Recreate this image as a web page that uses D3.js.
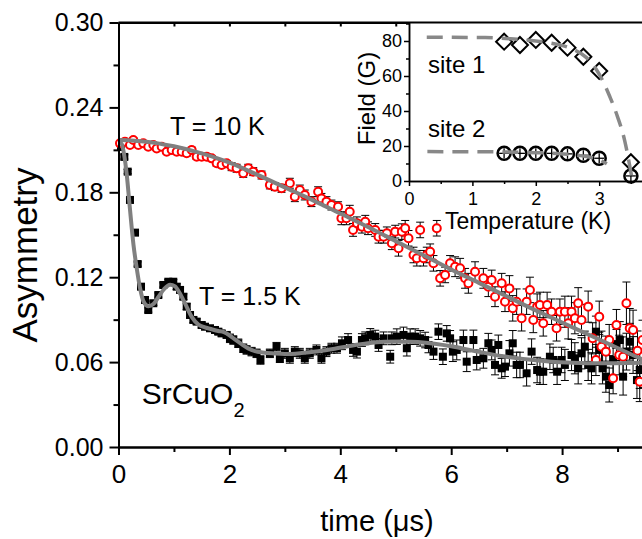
<!DOCTYPE html>
<html>
<head>
<meta charset="utf-8">
<script src="https://cdn.jsdelivr.net/npm/d3@7/dist/d3.min.js"></script>
<style>
  body { margin: 0; background: #fff; }
  text { font-family: Arial, "Liberation Sans", sans-serif; fill: #000; }
</style>
</head>
<body>
<div id="chart"></div>
<script>
// ---- T = 10 K (open red circles) ----
const redT = [
  0.027, 0.117, 0.207, 0.267, 0.357, 0.447, 0.537, 0.628, 0.689, 0.779, 0.869, 0.959,
  1.05, 1.14, 1.23, 1.32, 1.41, 1.50, 1.59, 1.68, 1.77, 1.86, 1.95,
  2.04, 2.13, 2.25, 2.34, 2.43, 2.58, 2.73, 2.82, 2.94,
  3.09, 3.18, 3.27, 3.36, 3.48, 3.60, 3.66, 3.75, 3.84, 3.96,
  4.02, 4.11, 4.17, 4.23, 4.30, 4.39, 4.45, 4.50, 4.63, 4.69, 4.78, 4.84, 4.93, 4.99,
  5.05, 5.11, 5.17, 5.23, 5.32, 5.38, 5.44, 5.50, 5.56, 5.62, 5.68, 5.74, 5.80, 5.89, 5.98,
  6.07, 6.16, 6.25, 6.31, 6.43, 6.58, 6.67, 6.73, 6.79, 6.91, 6.97,
  7.05, 7.11, 7.18, 7.27, 7.36, 7.42, 7.48, 7.55, 7.60, 7.66, 7.73, 7.81, 7.90, 7.96,
  8.05, 8.11, 8.17, 8.23, 8.29, 8.35, 8.47, 8.55, 8.61, 8.67, 8.71, 8.79, 8.85, 8.92, 8.98,
  9.03, 9.10, 9.16, 9.22, 9.28, 9.36, 9.40, 9.45
];
const redA = [
  0.2146, 0.2158, 0.2134, 0.2170, 0.2134, 0.2146, 0.2122, 0.2134, 0.2110, 0.2122, 0.2087, 0.2099,
  0.2087, 0.2087, 0.2076, 0.2099, 0.2052, 0.2052, 0.2052, 0.2040, 0.2005, 0.1993, 0.2005,
  0.1981, 0.1970, 0.1934, 0.1970, 0.1946, 0.1922, 0.1852, 0.1840, 0.1828,
  0.1864, 0.1769, 0.1816, 0.1781, 0.1734, 0.1804, 0.1757, 0.1734, 0.1710, 0.1698,
  0.1616, 0.1616, 0.1663, 0.1534, 0.1581, 0.1557, 0.1592, 0.1546, 0.1534, 0.1486, 0.1486, 0.1510, 0.1440, 0.1522,
  0.1404, 0.1522, 0.1546, 0.1475, 0.1357, 0.1334, 0.1534, 0.1334, 0.1357, 0.1380, 0.1298, 0.1546, 0.1192, 0.1216, 0.1298,
  0.1274, 0.1263, 0.1192, 0.1157, 0.1239, 0.1192, 0.1133, 0.1180, 0.1062, 0.1157, 0.1027,
  0.1121, 0.0980, 0.1027, 0.0910, 0.1027, 0.1110, 0.0898, 0.0992, 0.1004, 0.0874, 0.1004, 0.0956, 0.0839, 0.0956,
  0.0956, 0.0874, 0.0956, 0.0910, 0.1016, 0.0898, 0.0992, 0.0768, 0.0615, 0.0921, 0.0709, 0.0674, 0.0756, 0.0486, 0.0862,
  0.0650, 0.0638, 0.1016, 0.0839, 0.0827, 0.0680, 0.0461, 0.0756
];
const redErr = [
  0.0015, 0.0015, 0.0015, 0.0015, 0.0015, 0.0015, 0.0015, 0.0015, 0.0015, 0.0015, 0.0015, 0.0015,
  0.002, 0.002, 0.002, 0.002, 0.002, 0.002, 0.002, 0.002, 0.002, 0.002, 0.002,
  0.0028, 0.0028, 0.0028, 0.0028, 0.0028, 0.0028, 0.0028, 0.0028, 0.0028,
  0.0035, 0.0035, 0.0035, 0.0035, 0.0035, 0.0035, 0.0035, 0.0035, 0.0035, 0.0035,
  0.0045, 0.0045, 0.0045, 0.0045, 0.0045, 0.0045, 0.0045, 0.0045, 0.0045, 0.0045, 0.0045, 0.0045, 0.0045, 0.0045,
  0.0055, 0.0055, 0.0055, 0.0055, 0.0055, 0.0055, 0.0055, 0.0055, 0.0055, 0.0055, 0.0055, 0.0055, 0.0055, 0.0055, 0.0055,
  0.007, 0.007, 0.007, 0.007, 0.007, 0.007, 0.007, 0.007, 0.007, 0.007, 0.007,
  0.009, 0.009, 0.009, 0.009, 0.009, 0.009, 0.009, 0.009, 0.009, 0.009, 0.009, 0.009, 0.009, 0.009,
  0.011, 0.011, 0.011, 0.011, 0.011, 0.011, 0.011, 0.011, 0.011, 0.011, 0.011, 0.011, 0.011, 0.011, 0.011,
  0.014, 0.014, 0.015, 0.014, 0.014, 0.014, 0.014, 0.014
];

// ---- T = 1.5 K (filled black squares) ----
const blackT = [
  0.045, 0.105, 0.166, 0.207, 0.298, 0.346, 0.406, 0.478, 0.537, 0.628, 0.718, 0.808, 0.898, 0.988,
  1.05, 1.11, 1.17, 1.23, 1.29, 1.35, 1.41, 1.50, 1.56, 1.65, 1.74, 1.80, 1.86, 1.95,
  2.01, 2.07, 2.16, 2.25, 2.31, 2.40, 2.49, 2.56, 2.73, 2.85, 2.91,
  3.00, 3.09, 3.18, 3.27, 3.36, 3.45, 3.57, 3.66, 3.75, 3.84, 3.94,
  4.03, 4.14, 4.23, 4.30, 4.39, 4.45, 4.54, 4.63, 4.69, 4.78, 4.90, 4.93,
  5.02, 5.14, 5.20, 5.26, 5.35, 5.44, 5.53, 5.59, 5.68, 5.77, 5.85, 5.92, 5.98,
  6.03, 6.10, 6.22, 6.28, 6.40, 6.46, 6.58, 6.67, 6.73, 6.79, 6.85, 6.91, 6.97,
  7.05, 7.11, 7.18, 7.24, 7.36, 7.45, 7.55, 7.60, 7.66, 7.78, 7.84, 7.91, 7.99,
  8.05, 8.17, 8.23, 8.29, 8.35, 8.41, 8.47, 8.53, 8.61, 8.67, 8.73, 8.79, 8.85, 8.92, 8.98,
  9.04, 9.10, 9.16, 9.22, 9.28, 9.35, 9.40, 9.47
];
const blackA = [
  0.2120, 0.2050, 0.1946, 0.1746, 0.1515, 0.1293, 0.1133, 0.1039, 0.0968, 0.1016, 0.1074, 0.1145, 0.1168, 0.1168,
  0.1133, 0.1110, 0.1062, 0.0992, 0.0933, 0.0898, 0.0886, 0.0862, 0.0850, 0.0839, 0.0827, 0.0815, 0.0803, 0.0792,
  0.0768, 0.0756, 0.0733, 0.0698, 0.0686, 0.0674, 0.0662, 0.0615, 0.0662, 0.0709, 0.0627,
  0.0662, 0.0627, 0.0674, 0.0662, 0.0627, 0.0662, 0.0686, 0.0627, 0.0674, 0.0698, 0.0698,
  0.0733, 0.0756, 0.0686, 0.0674, 0.0756, 0.0768, 0.0792, 0.0780, 0.0721, 0.0768, 0.0638, 0.0768,
  0.0780, 0.0792, 0.0698, 0.0780, 0.0780, 0.0768, 0.0756, 0.0721, 0.0674, 0.0815, 0.0638, 0.0803, 0.0768,
  0.0674, 0.0686, 0.0756, 0.0603, 0.0756, 0.0615, 0.0627, 0.0733, 0.0686, 0.0580, 0.0721, 0.0556, 0.0568,
  0.0662, 0.0733, 0.0580, 0.0580, 0.0521, 0.0674, 0.0544, 0.0532, 0.0532, 0.0638, 0.0615, 0.0532, 0.0615,
  0.0580, 0.0650, 0.0627, 0.0556, 0.0662, 0.0709, 0.0580, 0.0556, 0.0815, 0.0686, 0.0556, 0.0497, 0.0438, 0.0615, 0.0721,
  0.0756, 0.0497, 0.0674, 0.0744, 0.0650, 0.0473, 0.0544, 0.0550
];
const blackErr = [
  0.0015, 0.0015, 0.0015, 0.0015, 0.0015, 0.0015, 0.0015, 0.0015, 0.0015, 0.0015, 0.0015, 0.0015, 0.0015, 0.0015,
  0.002, 0.002, 0.002, 0.002, 0.002, 0.002, 0.002, 0.002, 0.002, 0.002, 0.002, 0.002, 0.002, 0.002,
  0.003, 0.003, 0.003, 0.003, 0.003, 0.003, 0.003, 0.003, 0.003, 0.003, 0.003,
  0.0035, 0.0035, 0.0035, 0.0035, 0.0035, 0.0035, 0.0035, 0.0035, 0.0035, 0.0035, 0.0035,
  0.0045, 0.0045, 0.0045, 0.0045, 0.0045, 0.0045, 0.0045, 0.0045, 0.0045, 0.0045, 0.0045, 0.0045,
  0.0055, 0.0055, 0.0055, 0.0055, 0.0055, 0.0055, 0.0055, 0.0055, 0.0055, 0.0055, 0.0055, 0.0055, 0.0055,
  0.007, 0.007, 0.007, 0.007, 0.007, 0.007, 0.007, 0.007, 0.007, 0.007, 0.007, 0.007, 0.007,
  0.009, 0.009, 0.009, 0.009, 0.009, 0.009, 0.009, 0.009, 0.009, 0.009, 0.009, 0.009, 0.009,
  0.011, 0.011, 0.011, 0.011, 0.011, 0.011, 0.011, 0.011, 0.011, 0.011, 0.011, 0.011, 0.012, 0.011, 0.011,
  0.013, 0.013, 0.013, 0.013, 0.013, 0.013, 0.013, 0.013
];

// ---- fit curves ----
const fitRedT = [0, 0.5, 1, 1.5, 2, 2.5, 3, 3.5, 4, 4.5, 5, 5.5, 6, 6.5, 7, 7.5, 8, 8.5, 9, 9.5, 10];
const fitRedA = [0.217, 0.2158, 0.2125, 0.2075, 0.201, 0.1925, 0.1835, 0.1745, 0.165, 0.1555, 0.1455,
  0.1355, 0.1255, 0.116, 0.1065, 0.097, 0.088, 0.079, 0.070, 0.061, 0.0525];

const fitBlackT = [0, 0.06, 0.1, 0.15, 0.2, 0.27, 0.33, 0.39, 0.45, 0.54, 0.63, 0.72, 0.82, 0.93, 1.02,
  1.1, 1.2, 1.32, 1.44, 1.56, 1.68, 1.8, 1.9, 2.0, 2.1, 2.22, 2.34, 2.46, 2.6, 2.8, 3.0, 3.3, 3.6,
  3.9, 4.2, 4.5, 4.8, 5.1, 5.4, 5.7, 6.0, 6.4, 6.9, 7.4, 7.8, 8.2, 8.7, 9.2, 9.6, 10];
const fitBlackA = [0.216, 0.214, 0.207, 0.192, 0.171, 0.143, 0.126, 0.112, 0.103, 0.0995, 0.101, 0.106,
  0.1115, 0.1147, 0.1135, 0.109, 0.1015, 0.092, 0.0866, 0.0845, 0.0832, 0.082, 0.0812, 0.079, 0.076,
  0.0727, 0.0697, 0.0678, 0.0668, 0.0661, 0.0657, 0.0664, 0.0677, 0.0695, 0.0716, 0.0733, 0.0743,
  0.0746, 0.0742, 0.073, 0.0712, 0.068, 0.0643, 0.0618, 0.0603, 0.0595, 0.0591, 0.0593, 0.0597, 0.060];

// ---- inset: internal field vs temperature ----
const insetT = [1.5, 1.75, 2.0, 2.25, 2.5, 2.75, 3.0, 3.5];
const site1 = [79.6, 77.7, 80.6, 79.0, 76.2, 71.0, 62.9, 10.7];
const site2 = [15.8, 15.8, 15.8, 15.8, 15.5, 14.7, 13.0, 2.9];
const site1FitT = [0.28, 1.2, 1.6, 2.0, 2.25, 2.57, 2.8, 2.95, 3.06, 3.17, 3.27, 3.4, 3.51];
const site1FitG = [82.1, 82, 81.3, 80, 78.7, 75.5, 70.5, 64, 57, 48, 38.7, 23.4, 3];
const site2FitT = [0.29, 1.5, 2.0, 2.5, 2.8, 3.0, 3.12];
const site2FitG = [16.8, 16.6, 16.2, 15.3, 14, 12.2, 9.8];

// ---- ticks ----
const xTicks = [0, 2, 4, 6, 8];
const xMinor = [1, 3, 5, 7, 9];
const yTicks = [0, 0.06, 0.12, 0.18, 0.24, 0.30];
const yMinor = [0.03, 0.09, 0.15, 0.21, 0.27];
const inXTicks = [0, 1, 2, 3];
const inXMinor = [0.5, 1.5, 2.5, 3.5];
const inYTicks = [0, 20, 40, 60, 80];
const inYMinor = [10, 30, 50, 70, 90];

const W = 642, H = 539;
const svg = d3.select("#chart").append("svg").attr("width", W).attr("height", H);

const x = d3.scaleLinear().domain([0, 10]).range([118.5, 673]);
const y = d3.scaleLinear().domain([0, 0.30]).range([447, 22.5]);

const red = redT.map((t, i) => ({ t, a: redA[i], e: redErr[i] }));
const black = blackT.map((t, i) => ({ t, a: blackA[i], e: blackErr[i] }));

// error bars
const drawErr = (data) => {
  const g = svg.append("g").attr("stroke", "#000").attr("stroke-width", 1);
  data.forEach((d) => {
    const cx = x(d.t), y0 = y(d.a - d.e), y1 = y(d.a + d.e);
    g.append("line").attr("x1", cx).attr("x2", cx).attr("y1", y0).attr("y2", y1);
    g.append("line").attr("x1", cx - 4).attr("x2", cx + 4).attr("y1", y0).attr("y2", y0);
    g.append("line").attr("x1", cx - 4).attr("x2", cx + 4).attr("y1", y1).attr("y2", y1);
  });
};

drawErr(black);
svg.append("g").selectAll("rect").data(black).join("rect")
  .attr("x", (d) => x(d.t) - 4)
  .attr("y", (d) => y(d.a) - 4)
  .attr("width", 8).attr("height", 8)
  .attr("fill", "#000");

drawErr(red);
svg.append("g").selectAll("circle").data(red).join("circle")
  .attr("cx", (d) => x(d.t))
  .attr("cy", (d) => y(d.a))
  .attr("r", 4)
  .attr("fill", "#fff")
  .attr("stroke", "#ff0000")
  .attr("stroke-width", 2);

// fits
const fitLine = d3.line().x((d) => x(d[0])).y((d) => y(d[1])).curve(d3.curveMonotoneX);
svg.append("path")
  .attr("d", fitLine(fitRedT.map((t, i) => [t, fitRedA[i]])))
  .attr("fill", "none").attr("stroke", "#808080").attr("stroke-width", 4);
svg.append("path")
  .attr("d", fitLine(fitBlackT.map((t, i) => [t, fitBlackA[i]])))
  .attr("fill", "none").attr("stroke", "#808080").attr("stroke-width", 4);

// main axes
const axisStyle = (g) => {
  g.selectAll("path.domain").attr("stroke", "#000").attr("stroke-width", 2);
  g.selectAll(".tick line").attr("stroke", "#000").attr("stroke-width", 2);
  g.selectAll(".tick text").attr("fill", "#000").style("font-family", "Arial, 'Liberation Sans', sans-serif");
};

svg.append("g").attr("transform", "translate(118.5,0)")
  .call(d3.axisLeft(y).tickValues(yMinor).tickSize(5).tickSizeOuter(0).tickFormat(""))
  .call(axisStyle);
svg.append("g").attr("transform", "translate(118.5,0)")
  .call(d3.axisLeft(y).tickValues(yTicks).tickSize(9).tickSizeOuter(0).tickPadding(6).tickFormat(d3.format(".2f")))
  .call(axisStyle)
  .selectAll(".tick text").style("font-size", "25px");

svg.append("g").attr("transform", "translate(0,447)")
  .call(d3.axisBottom(x).tickValues(xMinor).tickSize(5).tickSizeOuter(0).tickFormat(""))
  .call(axisStyle);
svg.append("g").attr("transform", "translate(0,447)")
  .call(d3.axisBottom(x).tickValues(xTicks).tickSize(8).tickSizeOuter(0).tickPadding(10).tickFormat(d3.format("d")))
  .call(axisStyle)
  .selectAll(".tick text").style("font-size", "26px");

// top frame, ticks pointing inward
svg.append("g").attr("transform", "translate(0,22.5)")
  .call(d3.axisBottom(x).tickValues(xMinor.concat(xTicks)).tickSize(4).tickSizeOuter(0).tickFormat(""))
  .call(axisStyle);

// main labels
svg.append("text").attr("transform", "translate(37,255) rotate(-90)")
  .attr("text-anchor", "middle").style("font-size", "35px").text("Asymmetry");
svg.append("text").attr("x", 377).attr("y", 531)
  .attr("text-anchor", "middle").style("font-size", "29px").text("time (μs)");
svg.append("text").attr("x", 170).attr("y", 135).style("font-size", "25px").text("T = 10 K");
svg.append("text").attr("x", 199).attr("y", 305).style("font-size", "25px").text("T = 1.5 K");
const formula = svg.append("text").attr("x", 141.7).attr("y", 404).style("font-size", "30px");
formula.append("tspan").text("SrCuO");
formula.append("tspan").attr("dy", 13).style("font-size", "20px").text("2");

// ---- inset ----
const xi = d3.scaleLinear().domain([0, 4]).range([409, 662.6]);
const yi = d3.scaleLinear().domain([0, 90.57]).range([181, 22.5]);
const inset = svg.append("g");

inset.append("rect").attr("x", 409).attr("y", 22.5)
  .attr("width", W - 409).attr("height", 181 - 22.5).attr("fill", "#fff");

const s1 = insetT.map((t, i) => [t, site1[i]]);
const s2 = insetT.map((t, i) => [t, site2[i]]);

inset.append("g").selectAll("path").data(s1).join("path")
  .attr("d", (d) => {
    const cx = xi(d[0]), cy = yi(d[1]);
    return `M${cx},${cy - 8}L${cx + 8},${cy}L${cx},${cy + 8}L${cx - 8},${cy}Z`;
  })
  .attr("fill", "none").attr("stroke", "#000").attr("stroke-width", 2);

const cp = inset.append("g").selectAll("g").data(s2).join("g")
  .attr("transform", (d) => `translate(${xi(d[0])},${yi(d[1])})`);
cp.append("circle").attr("r", 6.5).attr("fill", "none").attr("stroke", "#000").attr("stroke-width", 2.5);
cp.append("line").attr("x1", -5).attr("x2", 5).attr("stroke", "#000").attr("stroke-width", 1.3);
cp.append("line").attr("y1", -5).attr("y2", 5).attr("stroke", "#000").attr("stroke-width", 1.3);

const dashLine = d3.line().x((d) => xi(d[0])).y((d) => yi(d[1])).curve(d3.curveMonotoneX);
inset.append("path")
  .attr("d", dashLine(site1FitT.map((t, i) => [t, site1FitG[i]])))
  .attr("fill", "none").attr("stroke", "#888").attr("stroke-width", 3.5).attr("stroke-dasharray", "16,9");
inset.append("path")
  .attr("d", dashLine(site2FitT.map((t, i) => [t, site2FitG[i]])))
  .attr("fill", "none").attr("stroke", "#888").attr("stroke-width", 3.5).attr("stroke-dasharray", "16,9");

const inAxisStyle = (g) => {
  g.selectAll("path.domain").attr("stroke", "#000").attr("stroke-width", 1.5);
  g.selectAll(".tick line").attr("stroke", "#000").attr("stroke-width", 1.5);
  g.selectAll(".tick text").attr("fill", "#000").style("font-size", "18px")
    .style("font-family", "Arial, 'Liberation Sans', sans-serif");
};

inset.append("g").attr("transform", "translate(409,0)")
  .call(d3.axisLeft(yi).tickValues(inYMinor).tickSize(3).tickSizeOuter(0).tickFormat(""))
  .call(inAxisStyle);
inset.append("g").attr("transform", "translate(409,0)")
  .call(d3.axisLeft(yi).tickValues(inYTicks).tickSize(5).tickSizeOuter(0).tickPadding(2).tickFormat(d3.format("d")))
  .call(inAxisStyle);
inset.append("g").attr("transform", "translate(0,181)")
  .call(d3.axisBottom(xi).tickValues(inXMinor).tickSize(3).tickSizeOuter(0).tickFormat(""))
  .call(inAxisStyle);
inset.append("g").attr("transform", "translate(0,181)")
  .call(d3.axisBottom(xi).tickValues(inXTicks).tickSize(5).tickSizeOuter(0).tickPadding(6).tickFormat(d3.format("d")))
  .call(inAxisStyle);

inset.append("text").attr("transform", "translate(375,98.5) rotate(-90)")
  .attr("text-anchor", "middle").style("font-size", "24px").text("Field (G)");
inset.append("text").attr("x", 528).attr("y", 229)
  .attr("text-anchor", "middle").style("font-size", "23px").text("Temperature (K)");
inset.append("text").attr("x", 428).attr("y", 73).style("font-size", "24px").text("site 1");
inset.append("text").attr("x", 428).attr("y", 137).style("font-size", "24px").text("site 2");

// redraw the top frame over the inset background
svg.append("line").attr("x1", 118.5).attr("x2", W).attr("y1", 22.5).attr("y2", 22.5)
  .attr("stroke", "#000").attr("stroke-width", 2);
</script>
</body>
</html>
